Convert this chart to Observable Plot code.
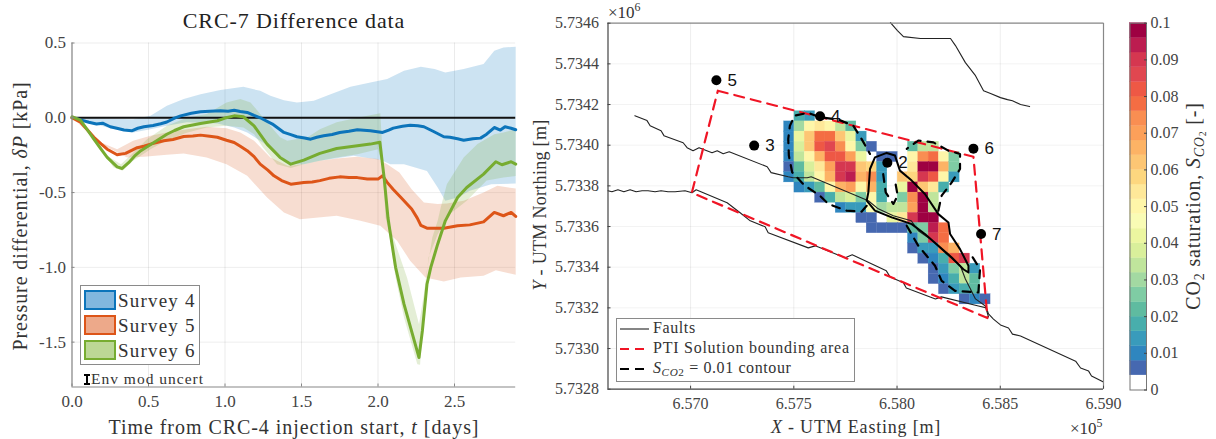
<!DOCTYPE html>
<html>
<head>
<meta charset="utf-8">
<script src="https://cdn.jsdelivr.net/npm/d3@7"></script>
<script src="https://cdn.jsdelivr.net/npm/@observablehq/plot@0.6"></script>
<style>
html,body{margin:0;padding:0;background:#fff}
#page{position:relative;width:1216px;height:439px;overflow:hidden;font-family:"Liberation Serif",serif;color:#333}
.lab{position:absolute;white-space:nowrap;line-height:1}
.lab i{font-style:italic}
.lab sub{font-size:.7em;line-height:0;vertical-align:-.25em}
.lab sup{font-size:.7em;line-height:0;vertical-align:.55em}
.box{position:absolute;box-sizing:border-box;border:1px solid #8a8a8a;background:#fff}
.sw{position:absolute;box-sizing:border-box;border-width:2px;border-style:solid}
</style>
</head>
<body>
<div id="page"></div>
<script>
// ---------- left panel: pressure differential [kPa] against time [days]
const survey4Line = [[0,0],[.05,-.012],[.11,-.03],[.16,-.042],[.2,-.036],[.25,-.06],[.3,-.072],[.34,-.082],[.39,-.087],[.43,-.07],[.47,-.06],[.53,-.052],[.58,-.04],[.62,-.028],[.67,-.002],[.71,.013],[.78,.03],[.84,.04],[.9,.044],[.97,.047],[1.02,.044],[1.06,.05],[1.1,.042],[1.145,.036],[1.19,.016],[1.23,0],[1.31,-.042],[1.385,-.098],[1.43,-.113],[1.47,-.127],[1.52,-.135],[1.56,-.143],[1.6,-.13],[1.645,-.12],[1.7,-.112],[1.75,-.098],[1.81,-.09],[1.865,-.08],[1.95,-.087],[2.03,-.098],[2.07,-.082],[2.1,-.069],[2.16,-.056],[2.21,-.05],[2.26,-.054],[2.3,-.06],[2.36,-.09],[2.43,-.127],[2.47,-.13],[2.52,-.14],[2.56,-.15],[2.62,-.14],[2.67,-.136],[2.71,-.11],[2.76,-.065],[2.8,-.082],[2.83,-.06],[2.87,-.07],[2.9,-.08]];
const survey5Line = [[0,0],[.055,-.03],[.1,-.08],[.143,-.13],[.19,-.175],[.23,-.21],[.295,-.247],[.35,-.238],[.39,-.218],[.426,-.2],[.47,-.19],[.513,-.176],[.56,-.164],[.6,-.154],[.66,-.145],[.73,-.125],[.79,-.122],[.84,-.116],[.9,-.124],[.95,-.13],[1.01,-.15],[1.06,-.165],[1.1,-.19],[1.145,-.22],[1.19,-.26],[1.23,-.31],[1.28,-.35],[1.32,-.388],[1.37,-.42],[1.43,-.444],[1.515,-.432],[1.57,-.43],[1.62,-.42],[1.68,-.405],[1.75,-.395],[1.81,-.4],[1.865,-.4],[1.93,-.41],[2.0,-.41],[2.03,-.388],[2.06,-.432],[2.1,-.48],[2.15,-.533],[2.22,-.61],[2.256,-.669],[2.28,-.72],[2.32,-.738],[2.365,-.738],[2.43,-.738],[2.52,-.722],[2.6,-.716],[2.69,-.696],[2.76,-.633],[2.82,-.655],[2.87,-.633],[2.9,-.66]];
const survey6Line = [[0,.007],[.055,-.015],[.1,-.08],[.143,-.143],[.19,-.21],[.23,-.265],[.295,-.328],[.328,-.339],[.37,-.3],[.41,-.255],[.45,-.22],[.535,-.165],[.62,-.11],[.67,-.085],[.73,-.06],[.84,-.038],[.95,-.02],[1.0,-.002],[1.06,.013],[1.12,.007],[1.19,-.054],[1.275,-.176],[1.36,-.265],[1.43,-.31],[1.515,-.283],[1.62,-.238],[1.73,-.205],[1.865,-.187],[1.95,-.176],[2.012,-.163],[2.04,-.4],[2.065,-.667],[2.078,-.756],[2.115,-1.0],[2.17,-1.246],[2.268,-1.603],[2.29,-1.425],[2.32,-1.113],[2.345,-1.0],[2.39,-.845],[2.44,-.689],[2.52,-.533],[2.58,-.466],[2.69,-.377],[2.77,-.294],[2.81,-.314],[2.87,-.294],[2.9,-.31]];
const survey4Upper = [[0,0],[.4,-.01],[.513,.013],[.62,.08],[.73,.125],[.84,.158],[.97,.185],[1.12,.207],[1.23,.18],[1.297,.147],[1.385,.118],[1.47,.103],[1.58,.114],[1.69,.158],[1.82,.207],[1.95,.236],[2.06,.259],[2.17,.314],[2.28,.341],[2.37,.326],[2.44,.303],[2.56,.326],[2.69,.359],[2.76,.448],[2.82,.47],[2.9,.475]];
const survey4Lower = [[0,0],[.25,-.07],[.4,-.098],[.513,-.076],[.62,-.054],[.75,-.03],[.95,-.038],[1.06,-.065],[1.145,-.098],[1.3,-.2],[1.43,-.31],[1.515,-.31],[1.62,-.288],[1.84,-.254],[2.02,-.283],[2.08,-.31],[2.17,-.31],[2.32,-.355],[2.39,-.466],[2.44,-.555],[2.52,-.533],[2.6,-.488],[2.74,-.444],[2.9,-.44]];
const survey5Upper = [[0,0],[.19,-.165],[.295,-.21],[.4,-.154],[.513,-.12],[.62,-.098],[.75,-.076],[.88,-.06],[1.01,-.07],[1.1,-.098],[1.19,-.154],[1.297,-.265],[1.41,-.32],[1.515,-.31],[1.62,-.288],[1.73,-.272],[1.865,-.26],[2.0,-.276],[2.06,-.31],[2.14,-.366],[2.22,-.477],[2.3,-.566],[2.39,-.577],[2.45,-.573],[2.56,-.555],[2.69,-.5],[2.78,-.455],[2.9,-.473]];
const survey5Lower = [[0,0],[.19,-.176],[.36,-.265],[.47,-.26],[.62,-.247],[.73,-.238],[.88,-.265],[1.01,-.31],[1.145,-.388],[1.275,-.533],[1.385,-.633],[1.49,-.678],[1.73,-.655],[1.885,-.689],[2.015,-.722],[2.125,-.822],[2.21,-.956],[2.31,-1.068],[2.43,-1.095],[2.54,-1.068],[2.69,-1.057],[2.77,-1.019],[2.9,-1.05]];
const survey6Upper = [[0,.007],[.23,-.254],[.32,-.31],[.38,-.254],[.49,-.143],[.62,-.054],[.75,0],[.88,.025],[1.01,.103],[1.1,.125],[1.167,.103],[1.25,0],[1.36,-.13],[1.407,-.154],[1.54,-.13],[1.62,-.076],[1.73,-.03],[1.865,0],[2.015,.03],[2.035,-.33],[2.07,-.689],[2.1,-.8],[2.19,-1.07],[2.268,-1.38],[2.3,-1.18],[2.32,-1.02],[2.355,-.8],[2.39,-.689],[2.41,-.6],[2.45,-.444],[2.56,-.265],[2.65,-.176],[2.76,-.11],[2.82,-.098],[2.9,-.076]];
const survey6Lower = [[0,.007],[.19,-.21],[.27,-.33],[.33,-.354],[.4,-.288],[.513,-.21],[.62,-.15],[.75,-.1],[.88,-.065],[1.01,-.054],[1.12,-.065],[1.19,-.11],[1.25,-.2],[1.34,-.31],[1.43,-.335],[1.515,-.31],[1.62,-.288],[1.73,-.265],[1.865,-.243],[2.0,-.21],[2.03,-.33],[2.05,-.67],[2.07,-.756],[2.115,-1.068],[2.17,-1.335],[2.257,-1.648],[2.275,-1.652],[2.295,-1.358],[2.31,-1.135],[2.33,-.934],[2.39,-.78],[2.44,-.689],[2.47,-.644],[2.58,-.555],[2.71,-.42],[2.82,-.4],[2.9,-.39]];
const timeTicks = [0,.5,1,1.5,2,2.5];
const pressureTicks = [-1.5,-1,-.5,0,.5];

// ---------- right panel: UTM coordinates [m]
const faultNorth = [[657968,5734603],[658002,5734564],[658031,5734534],[658113,5734525],[658259,5734525],[658283,5734490],[658331,5734406],[658380,5734342],[658419,5734268],[658453,5734254],[658501,5734234],[658535,5734224],[658559,5734219],[658598,5734200],[658642,5734190]];
const faultMiddle = [[656730,5734145],[656789,5734121],[656804,5734096],[656857,5734071],[656871,5734047],[656964,5734012],[656983,5733988],[657012,5733973],[657041,5733988],[657104,5733963],[657129,5733973],[657158,5733958],[657187,5733968],[657371,5733894],[657390,5733865],[657473,5733845],[657497,5733840],[657565,5733840],[657584,5733845],[657861,5733727],[657909,5733687],[657982,5733653],[658069,5733628],[658103,5733579],[658161,5733539],[658234,5733470],[658307,5733406],[658331,5733342],[658380,5733244],[658428,5733209],[658443,5733155]];
const faultSouth = [[656600,5733776],[656619,5733771],[656648,5733781],[656677,5733771],[656707,5733781],[656736,5733771],[656765,5733776],[656794,5733776],[656828,5733771],[656857,5733776],[656891,5733771],[656925,5733771],[656973,5733776],[657007,5733766],[657027,5733781],[657177,5733717],[657240,5733668],[657289,5733628],[657361,5733599],[657376,5733569],[657570,5733495],[657604,5733505],[657749,5733446],[657783,5733461],[657948,5733382],[657967,5733352],[658031,5733323],[658045,5733298],[658186,5733244],[658215,5733254],[658394,5733209],[658433,5733200],[658443,5733170],[658467,5733145],[658501,5733116],[658540,5733101],[658559,5733071],[658598,5733062],[658865,5732938],[658889,5732904],[658928,5732889],[658942,5732865],[659000,5732835]];
const solutionArea = [[657132,5734268],[658370,5733943],[658438,5733150],[657006,5733766],[657132,5734268]];
const contourWest = [[657853,5733702],[657828,5733673],[657755,5733678],[657667,5733711],[657626,5733752],[657553,5733801],[657492,5733867],[657476,5733949],[657473,5734031],[657481,5734096],[657505,5734146],[657570,5734159],[657626,5734138],[657715,5734126],[657788,5734096],[657828,5734031],[657869,5733957]];
const contourInner = [[657933,5733858],[657945,5733768],[657982,5733711],[658003,5733752],[657993,5733809]];
const contourEast = [[658200,5733678],[658216,5733752],[658265,5733817],[658305,5733883],[658305,5733957],[658249,5733973],[658176,5734014],[658103,5734023],[658047,5733982]];
const contourSouth = [[658047,5733604],[658103,5733505],[658184,5733407],[658216,5733333],[658281,5733284],[658394,5733276],[658402,5733390],[658362,5733456]];
const solidLoop = [[657990,5733949],[657950,5733962],[657893,5733940],[657869,5733883],[657861,5733768],[657853,5733727],[657893,5733678],[657974,5733645],[658022,5733629],[658071,5733612],[658135,5733563],[658200,5733505],[658265,5733448],[658321,5733390],[658346,5733374],[658346,5733407],[658305,5733489],[658257,5733563],[658249,5733620],[658200,5733661],[658135,5733760],[658071,5733826],[658014,5733875],[657998,5733924],[657990,5733949]];
const wellNames = ["5","3","4","2","6","7"];
const wellEast = [657125,657308,657627,657953,658370,658407];
const wellNorth = [5734319,5733998,5734142,5733914,5733983,5733563];
const eastTicks = [657000,657500,658000,658500,659000];
const northTicks = [5732800,5733000,5733200,5733400,5733600,5733800,5734000,5734200,5734400,5734600];

// CO2 saturation on a 50 m grid, one row per northing, west to east
const gridWest = 657453, gridTop = 5734167, gridStep = 50;
const saturation = [
 [0,.016,.012],
 [.010,.03,.05,.052,.05,.035,.02],
 [.01,.04,.062,.076,.076,.062,.04,.012],
 [.008,.038,.06,.08,.084,.074,.05,.024,.006,0,0,0,.02,.032,.034],
 [.010,.034,.05,.066,.08,.082,.068,.04,0,.006,.006,0,.05,.075,.078,.05,.024],
 [.006,.02,.036,.052,.07,.09,.088,.06,.058,.012,0,0,.054,.098,.098,.064,.024],
 [.008,.018,.034,.05,.064,.088,.094,.066,.074,.014,0,.06,.056,.09,.08,.048,.012],
 [0,.008,.012,.022,.05,.064,.07,.05,.066,.018,0,.042,.098,.06,.052,.018],
 [0,0,0,.006,.018,.032,.038,.024,.05,.018,0,.024,.072,.098,.034],
 [0,0,0,0,0,.008,.012,.014,.046,.03,.032,.034,.068,.1,.034],
 [0,0,0,0,0,0,0,.006,.006,0,.04,.055,.088,.1,.098],
 [0,0,0,0,0,0,0,0,.006,.006,.006,.006,.02,.024,.094,.076],
 [0,0,0,0,0,0,0,0,0,0,0,0,.01,.024,.088,.078],
 [0,0,0,0,0,0,0,0,0,0,0,0,.006,.012,.014,.074,.066],
 [0,0,0,0,0,0,0,0,0,0,0,0,0,.006,.01,.018,.082,.09],
 [0,0,0,0,0,0,0,0,0,0,0,0,0,0,.006,.012,.026,.034,.012],
 [0,0,0,0,0,0,0,0,0,0,0,0,0,0,.006,.01,.016,.032,.022],
 [0,0,0,0,0,0,0,0,0,0,0,0,0,0,0,.006,.012,.016,.02],
 [0,0,0,0,0,0,0,0,0,0,0,0,0,0,0,0,0,.006,.008,.006]
];
const colorEdges = [.004,.008,.012,.016,.02,.024,.028,.032,.036,.04,.044,.048,.052,.056,.06,.064,.068,.072,.076,.08,.084,.088,.092,.096];
const colorBands = ["#ffffff","#4668b0","#2f86bf","#399bbb","#48aeac","#5fbba0","#7fcca4","#a3d9a2","#c0e59c","#d9ef9b","#ecf6a0","#f9fcb5","#fef6a9","#fee899","#fdd77f","#fdc674","#fdb365","#fca05a","#f98e52","#f46d43","#ee5845","#e04750","#d53750","#bc1d50","#9e0142"];
const colorbarTicks = [0,.01,.02,.03,.04,.05,.06,.07,.08,.09,.1];

const page = document.getElementById("page");
const serif = "Liberation Serif";
const inkTick = "#444";
function place(el, x) {
  el.style.position = "absolute";
  el.style.top = "0px";
  el.style.left = x + "px";
  page.appendChild(el);
}

// ---------- left plot
const bandOf = (u, l) => u.concat(l.slice().reverse());
const xy = {x: d => d[0], y: d => d[1]};
const left = Plot.plot({
  width: 530, height: 439,
  marginLeft: 71.5, marginRight: 14.8, marginTop: 42.5, marginBottom: 52.5,
  style: {fontFamily: serif, fontSize: "17px", color: inkTick, background: "transparent"},
  x: {domain: [0, 2.9]},
  y: {domain: [-1.8, 0.5]},
  marks: [
    Plot.gridX(timeTicks, {stroke: "#000", strokeOpacity: .08}),
    Plot.gridY(pressureTicks, {stroke: "#000", strokeOpacity: .07}),
    Plot.line(bandOf(survey4Upper, survey4Lower), {...xy, fill: "#0072bd", fillOpacity: .2, stroke: "none"}),
    Plot.line(bandOf(survey5Upper, survey5Lower), {...xy, fill: "#d95319", fillOpacity: .2, stroke: "none"}),
    Plot.line(bandOf(survey6Upper, survey6Lower), {...xy, fill: "#77ac30", fillOpacity: .2, stroke: "none"}),
    Plot.ruleY([0], {stroke: "#111", strokeWidth: 2}),
    Plot.line(survey4Line, {...xy, stroke: "#0c74ba", strokeWidth: 3, strokeLinejoin: "round"}),
    Plot.line(survey5Line, {...xy, stroke: "#dd5518", strokeWidth: 3, strokeLinejoin: "round"}),
    Plot.line(survey6Line, {...xy, stroke: "#77ac30", strokeWidth: 3, strokeLinejoin: "round"}),
    Plot.ruleX([0], {stroke: "#888", strokeWidth: 1.2}),
    Plot.ruleY([-1.8], {stroke: "#888", strokeWidth: 1.2}),
    Plot.axisX(timeTicks, {anchor: "bottom", label: null, tickSize: -3, tickPadding: 11, stroke: "#888", tickFormat: v => v.toFixed(1)}),
    Plot.axisY(pressureTicks, {anchor: "left", label: null, tickSize: -3, tickPadding: 9, stroke: "#888", tickFormat: v => v.toFixed(1)})
  ]
});
place(left, 0);

// ---------- right plot
const cells = saturation.flatMap((row, j) => row.flatMap((v, i) => v > 0 ? [{
  e1: gridWest + i * gridStep, e2: gridWest + (i + 1) * gridStep,
  n1: gridTop - (j + 1) * gridStep, n2: gridTop - j * gridStep, v
}] : []));
const wells = wellNames.map((name, i) => ({name, e: wellEast[i], n: wellNorth[i]}));
const colorScale = {type: "threshold", domain: colorEdges, range: colorBands};
const dashed = {stroke: "#000", strokeWidth: 2.2, strokeDasharray: "8,7"};
const right = Plot.plot({
  width: 625, height: 439,
  marginLeft: 77.5, marginRight: 52, marginTop: 22.7, marginBottom: 50.3,
  style: {fontFamily: serif, fontSize: "16px", color: inkTick, background: "transparent"},
  x: {domain: [656600, 659000]},
  y: {domain: [5732800, 5734600]},
  color: colorScale,
  marks: [
    Plot.gridX(eastTicks, {stroke: "#000", strokeOpacity: .07}),
    Plot.gridY(northTicks, {stroke: "#000", strokeOpacity: .05}),
    Plot.rect(cells, {x1: "e1", x2: "e2", y1: "n1", y2: "n2", fill: "v", stroke: "v", strokeWidth: .3}),
    Plot.line(faultNorth, {...xy, stroke: "#222", strokeWidth: 1.1}),
    Plot.line(faultMiddle, {...xy, stroke: "#222", strokeWidth: 1.1}),
    Plot.line(faultSouth, {...xy, stroke: "#222", strokeWidth: 1.1}),
    Plot.line(solutionArea, {...xy, stroke: "#f01525", strokeWidth: 2.2, strokeDasharray: "10,7"}),
    Plot.line(contourWest, {...xy, ...dashed}),
    Plot.line(contourInner, {...xy, ...dashed}),
    Plot.line(contourEast, {...xy, ...dashed}),
    Plot.line(contourSouth, {...xy, ...dashed}),
    Plot.line(solidLoop, {...xy, stroke: "#000", strokeWidth: 2}),
    Plot.dot(wells, {x: "e", y: "n", r: 5, fill: "#000", stroke: "none"}),
    Plot.text(wells, {x: "e", y: "n", text: "name", dx: 11, textAnchor: "start", fill: "#111", fontFamily: "Liberation Sans", fontSize: 17}),
    Plot.ruleX([659000], {stroke: "#888", strokeWidth: 1.2}),
    Plot.ruleY([5734600], {stroke: "#888", strokeWidth: 1.2}),
    Plot.ruleX([656600], {stroke: "#444", strokeWidth: 1.2}),
    Plot.ruleY([5732800], {stroke: "#444", strokeWidth: 1.2}),
    Plot.axisX(eastTicks, {anchor: "bottom", label: null, tickSize: -3, tickPadding: 11, stroke: "#444", tickFormat: v => (v / 1e5).toFixed(3)}),
    Plot.axisY(northTicks, {anchor: "left", label: null, tickSize: -3, tickPadding: 12, stroke: "#444", tickFormat: v => (v / 1e6).toFixed(4)})
  ]
});
place(right, 530);

// ---------- colour bar
const barEdges = [0, ...colorEdges, .1];
const barRects = d3.pairs(barEdges).map(([lo, hi]) => ({lo, hi}));
const bar = Plot.plot({
  width: 106, height: 439,
  marginLeft: 19.5, marginRight: 70, marginTop: 22.7, marginBottom: 49.5,
  style: {fontFamily: serif, fontSize: "16px", color: inkTick, background: "transparent"},
  x: {domain: [0, 1], axis: null},
  y: {domain: [0, .1]},
  color: colorScale,
  marks: [
    Plot.rect(barRects, {x1: 0, x2: 1, y1: "lo", y2: "hi", fill: "lo", stroke: "lo", strokeWidth: .3}),
    Plot.frame({stroke: "#777"}),
    Plot.axisY(colorbarTicks, {anchor: "right", label: null, tickSize: -3, tickPadding: 7, stroke: "#444", tickFormat: v => String(+v.toFixed(2))})
  ]
});
place(bar, 1110);

// ---------- text and legends around the plots
function label(html, x, y, size, rot, spacing) {
  const d = document.createElement("div");
  d.className = "lab";
  d.innerHTML = html;
  d.style.left = x + "px";
  d.style.top = y + "px";
  d.style.fontSize = size + "px";
  if (spacing) d.style.letterSpacing = spacing + "px";
  d.style.transform = "translate(-50%,-50%)" + (rot ? ` rotate(${rot}deg)` : "");
  page.appendChild(d);
  return d;
}
function leftLabel(html, x, y, size, spacing) {
  const d = label(html, x, y, size, 0, spacing);
  d.style.transform = "translate(0,-50%)";
  return d;
}
label("CRC-7 Difference data", 294, 21, 22, 0, .9).style.color = "#222";
label("Time from CRC-4 injection start, <i>t</i> [days]", 294, 427, 20, 0, .95);
label("Pressure differential, <i>&delta;P</i> [kPa]", 20, 216, 20, -90, .9);
label("<i>X</i> - UTM Easting [m]", 856, 427, 18, 0, .8);
label("<i>Y</i> - UTM Northing [m]", 540, 205, 18, -90, .3);
label("CO<sub>2</sub> saturation, <i>S</i><sub><i>CO</i><sub>2</sub></sub> [-]", 1193, 206, 20, -90, .8);
leftLabel("&times;10<sup>6</sup>", 608, 12, 17);
leftLabel("&times;10<sup>5</sup>", 1070, 428, 17);

function swatch(top, border, fill) {
  const s = document.createElement("div");
  s.className = "sw";
  s.style.cssText += `left:83.5px;top:${top}px;width:32px;height:20px;border-color:${border};background:${fill}`;
  page.appendChild(s);
}
const box1 = document.createElement("div");
box1.className = "box";
box1.style.cssText += "left:80px;top:285px;width:120px;height:80px";
page.appendChild(box1);
swatch(290, "#0c74ba", "#82b7de");
swatch(315, "#dd5518", "#eda98a");
swatch(340, "#77ac30", "#bcd795");
leftLabel("Survey 4", 118, 299.5, 19, 1.2);
leftLabel("Survey 5", 118, 324.5, 19, 1.2);
leftLabel("Survey 6", 118, 349.5, 19, 1.2);
leftLabel("Env mod uncert", 91, 379, 15.5, 1);

const NS = "http://www.w3.org/2000/svg";
function legendSvg() {
  const s = document.createElementNS(NS, "svg");
  s.setAttribute("width", 1216); s.setAttribute("height", 439);
  s.style.cssText = "position:absolute;left:0;top:0;pointer-events:none";
  return s;
}
function seg(s, x1, y1, x2, y2, color, w, dash) {
  const l = document.createElementNS(NS, "line");
  l.setAttribute("x1", x1); l.setAttribute("y1", y1); l.setAttribute("x2", x2); l.setAttribute("y2", y2);
  l.setAttribute("stroke", color); l.setAttribute("stroke-width", w);
  if (dash) l.setAttribute("stroke-dasharray", dash);
  s.appendChild(l);
}
const box2 = document.createElement("div");
box2.className = "box";
box2.style.cssText += "left:615.5px;top:317.5px;width:239px;height:64px";
page.appendChild(box2);
const keys = legendSvg();
seg(keys, 87, 375, 87, 384, "#000", 2);
seg(keys, 84, 375, 90, 375, "#000", 2);
seg(keys, 84, 384, 90, 384, "#000", 2);
seg(keys, 620, 329, 649, 329, "#222", 1.1);
seg(keys, 620, 349, 649, 349, "#f01525", 2.2, "9,6");
seg(keys, 620, 369, 649, 369, "#000", 2.2, "9,6");
page.appendChild(keys);
leftLabel("Faults", 653, 328, 16, .6);
leftLabel("PTI Solution bounding area", 653, 348, 16, .75);
leftLabel("<i>S</i><sub><i>CO</i>2</sub> = 0.01 contour", 653, 368, 16, .6);
</script>
</body>
</html>
